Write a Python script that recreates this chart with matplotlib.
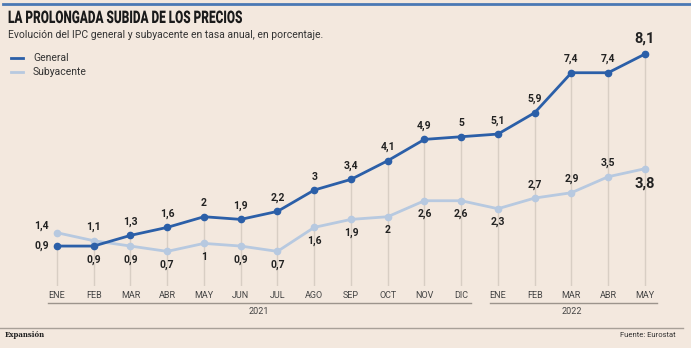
import matplotlib.pyplot as plt
from matplotlib import font_manager, patheffects
import matplotlib.transforms as mtransforms

# Data
months = ['ENE', 'FEB', 'MAR', 'ABR', 'MAY', 'JUN', 'JUL', 'AGO', 'SEP', 'OCT', 'NOV', 'DIC',
          'ENE', 'FEB', 'MAR', 'ABR', 'MAY']
general = [0.9, 0.9, 1.3, 1.6, 2.0, 1.9, 2.2, 3.0, 3.4, 4.1, 4.9, 5.0, 5.1, 5.9, 7.4, 7.4, 8.1]
subyacente = [1.4, 1.1, 0.9, 0.7, 1.0, 0.9, 0.7, 1.6, 1.9, 2.0, 2.6, 2.6, 2.3, 2.7, 2.9, 3.5, 3.8]
years = ['2021', '2022']

# label placement: 'a' above, 'b' below, 'l' left
gen_pos = ['l', 'b', 'a', 'a', 'a', 'a', 'a', 'a', 'a', 'a', 'a', 'a', 'a', 'a', 'a', 'a', 'a']
sub_pos = ['l', 'a', 'b', 'b', 'b', 'b', 'b', 'b', 'b', 'b', 'b', 'b', 'b', 'a', 'a', 'a', 'b']

installed = {f.name for f in font_manager.fontManager.ttflist}
narrow = 'Liberation Sans Narrow' if 'Liberation Sans Narrow' in installed else 'Roboto'
plt.rcParams['font.family'] = [narrow, 'DejaVu Sans']

bg = '#F3E8DE'
blue = '#2B5FA8'
light = '#B7C9E0'
grid = '#D8CEC4'
txt = '#222222'


class Squeeze(patheffects.AbstractPathEffect):
    # squeeze text horizontally around a fixed x (in pixels) to mimic a condensed face
    def __init__(self, x0, sx):
        super().__init__()
        self.x0 = x0
        self.sx = sx

    def draw_path(self, renderer, gc, tpath, affine, rgbFace=None):
        squeeze = mtransforms.Affine2D().translate(-self.x0, 0).scale(self.sx, 1).translate(self.x0, 0)
        renderer.draw_path(gc, tpath, affine + squeeze, rgbFace)


fig = plt.figure(figsize=(6.91, 3.48), dpi=100, facecolor=bg)
ax = fig.add_axes([0.0559, 0.178, 0.904, 0.7356])
ax.set_facecolor(bg)
ax.set_xlim(-0.5, 16.5)
ax.set_ylim(-0.6, 9)
ax.axis('off')

x = list(range(len(months)))
for i in x:
    ax.plot([i, i], [-0.6, general[i]], color=grid, lw=1, zorder=1)

ax.plot(x, subyacente, color=light, lw=2, marker='o', ms=4.5, zorder=2)
ax.plot(x, general, color=blue, lw=2, marker='o', ms=4.5, zorder=3)

def label(i, v, pos, big=False):
    s = ('%g' % v).replace('.', ',')
    fs = 10.5 if big else 7.5
    if pos == 'a':
        ax.annotate(s, (i, v), xytext=(0, 6), textcoords='offset points', ha='center', va='bottom',
                    fontsize=fs, fontweight='bold', color=txt)
    elif pos == 'b':
        ax.annotate(s, (i, v), xytext=(0, -6), textcoords='offset points', ha='center', va='top',
                    fontsize=fs, fontweight='bold', color=txt)
    else:
        ax.annotate(s, (i, v), xytext=(-6, 1 if v > 1 else 0), textcoords='offset points', ha='right',
                    va='bottom' if v > 1 else 'center', fontsize=fs, fontweight='bold', color=txt)

for i in x:
    label(i, general[i], gen_pos[i], big=(i == 16))
    label(i, subyacente[i], sub_pos[i], big=(i == 16))

# month labels and year brackets
trans = mtransforms.blended_transform_factory(ax.transData, fig.transFigure)
for i, m in enumerate(months):
    fig.text(i, 1 - 296 / 348, m, transform=trans, ha='center', va='center', fontsize=6.5, color='#444444')
ylin = 1 - 303 / 348
fig.add_artist(plt.Line2D([-0.25, 11.27], [ylin, ylin], transform=trans, color='#9C948C', lw=1))
fig.add_artist(plt.Line2D([11.78, 16.33], [ylin, ylin], transform=trans, color='#9C948C', lw=1))
fig.text(5.5, 1 - 312 / 348, years[0], transform=trans, ha='center', va='center', fontsize=6.5, color='#444444')
fig.text(14, 1 - 312 / 348, years[1], transform=trans, ha='center', va='center', fontsize=6.5, color='#444444')

# header
fig.add_artist(plt.Line2D([0.004, 1], [1 - 4 / 348, 1 - 4 / 348], color='#4A78B4', lw=2))
fig.text(8 / 691, 1 - 18 / 348, 'LA PROLONGADA SUBIDA DE LOS PRECIOS', fontsize=12.5, fontweight='heavy',
         color='#1A1A1A', va='center', path_effects=[Squeeze(8, 0.68)])
fig.text(8 / 691, 1 - 35 / 348, 'Evolución del IPC general y subyacente en tasa anual, en porcentaje.',
         fontsize=7.5, color='#333333', va='center')
for yy, c, name in [(58, blue, 'General'), (72, light, 'Subyacente')]:
    fig.add_artist(plt.Line2D([11 / 691, 23 / 691], [1 - yy / 348, 1 - yy / 348], color=c, lw=2))
    fig.text(33 / 691, 1 - yy / 348, name, fontsize=7.5, color='#333333', va='center')

# footer
fig.add_artist(plt.Line2D([0, 683 / 691], [1 - 328 / 348, 1 - 328 / 348], color='#A8A098', lw=1))
fig.text(5 / 691, 1 - 335 / 348, 'Expansión', fontsize=5, family='DejaVu Serif', fontweight='bold',
         color='#222222', va='center')
fig.text(676 / 691, 1 - 335 / 348, 'Fuente: Eurostat', fontsize=5.5, color='#333333', va='center', ha='right')

fig.savefig('out.png', dpi=100, facecolor=bg)
